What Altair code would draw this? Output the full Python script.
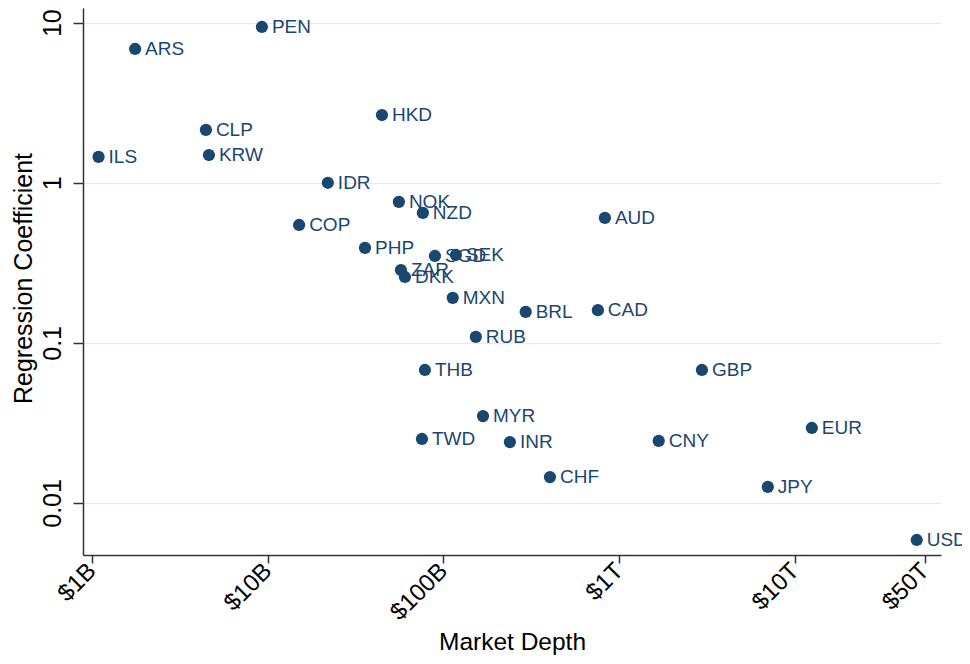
import altair as alt
import pandas as pd

currencies = ["PEN", "ARS", "HKD", "CLP", "KRW", "ILS", "IDR", "NOK", "NZD", "COP",
              "PHP", "SGD", "SEK", "ZAR", "DKK", "MXN", "AUD", "BRL", "CAD", "RUB",
              "THB", "TWD", "MYR", "INR", "CHF", "CNY", "GBP", "EUR", "JPY", "USD"]
market_depth = [9.27e9, 1.76e9, 44.7e9, 4.45e9, 4.63e9, 1.09e9, 22.0e9, 55.8e9, 76.4e9, 15.1e9,
                35.8e9, 89.5e9, 117.8e9, 57.3e9, 60.4e9, 113e9, 830e9, 294e9, 757e9, 153e9,
                78.5e9, 75.5e9, 168e9, 239e9, 404e9, 1.68e12, 2.96e12, 12.5e12, 7.02e12, 49.4e12]
coefficient = [9.40, 6.85, 2.65, 2.14, 1.49, 1.45, 1.0, 0.759, 0.648, 0.545,
               0.392, 0.349, 0.354, 0.285, 0.258, 0.191, 0.603, 0.156, 0.160, 0.109,
               0.0677, 0.0251, 0.0349, 0.0240, 0.0145, 0.0244, 0.0677, 0.0294, 0.0126, 0.00587]

x_tick_values = [1e9, 1e10, 1e11, 1e12, 1e13, 5.5e13]
x_tick_labels = ["$1B", "$10B", "$100B", "$1T", "$10T", "$50T"]
y_tick_values = [0.01, 0.1, 1, 10]
y_tick_labels = ["0.01", "0.1", "1", "10"]

df = pd.DataFrame({"cur": currencies, "depth": market_depth, "coef": coefficient})

x_map = "{" + ",".join(f"'{int(v)}':'{l}'" for v, l in zip(x_tick_values, x_tick_labels)) + "}"
y_map = "{" + ",".join(f"'{v}':'{l}'" for v, l in zip(y_tick_values, y_tick_labels)) + "}"

navy = "#1a476f"
font = "Liberation Sans"

x_enc = alt.X("depth:Q", scale=alt.Scale(type="log", domain=[8.89e8, 6.79e13], nice=False),
              axis=alt.Axis(title="Market Depth", values=x_tick_values,
                            labelExpr=f"{x_map}[datum.value + '']",
                            labelAngle=315, labelAlign="right", labelBaseline="middle",
                            labelFontSize=24, labelPadding=4, tickSize=8,
                            titleFontSize=24.5, titleFontWeight="normal",
                            titleX=429, titleY=94, titleAlign="center",
                            titleBaseline="alphabetic", titleAnchor="middle",
                            grid=False, labelFlush=False, labelOverlap=False))
y_enc = alt.Y("coef:Q", scale=alt.Scale(type="log", domain=[0.00473, 12.35], nice=False),
              axis=alt.Axis(title="Regression Coefficient", values=y_tick_values,
                            labelExpr=f"{y_map}[datum.value + '']",
                            labelAngle=270, labelFontSize=25, labelPadding=8, tickSize=10,
                            titleFontSize=25, titleFontWeight="normal",
                            titleAngle=270, titleX=-52, titleY=270, titleAlign="center",
                            titleBaseline="alphabetic", titleAnchor="middle",
                            grid=True, gridColor="#e6edf1", gridWidth=1.5,
                            labelFlush=False, labelOverlap=False))

points = alt.Chart(df).mark_circle(size=150, color=navy, opacity=1).encode(x=x_enc, y=y_enc)
labels = alt.Chart(df).mark_text(align="left", baseline="middle", dx=10, fontSize=19,
                                 font=font, color=navy).encode(
    x="depth:Q", y="coef:Q", text="cur:N")

chart = (points + labels).properties(
    width=858, height=547,
    autosize=alt.AutoSizeParams(type="none"),
    padding={"left": 75, "top": 0, "right": 21, "bottom": 100},
).configure_view(stroke=None).configure_axis(
    labelFont=font, titleFont=font, labelColor="#000000", titleColor="#000000",
    domainColor="#333333", domainWidth=1.5, tickColor="#333333", tickWidth=1.5,
)

chart.save("out.html", embed_options={"renderer": "svg", "actions": False})
